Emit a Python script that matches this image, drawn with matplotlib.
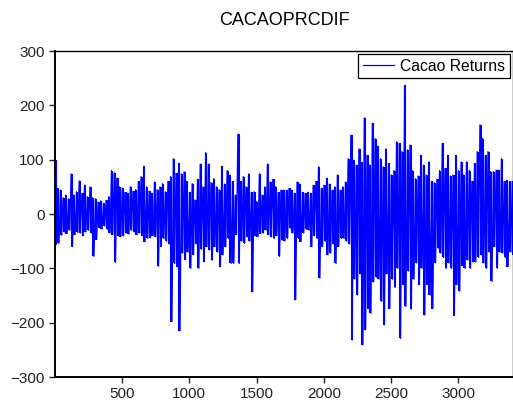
import matplotlib
matplotlib.use("Agg")
import matplotlib.pyplot as plt
import numpy as np

plt.rcParams['font.family'] = ['Liberation Sans', 'DejaVu Sans']

upper = [99, 47, 44, 30, 35, 28, 74, 35, 41, 61, 38, 53, 32, 50, 30, 28, 22, 24, 20, 25,
         32, 80, 76, 66, 50, 48, 40, 38, 50, 42, 45, 60, 69, 88, 50, 42, 38, 59, 45, 50,
         56, 41, 60, 69, 102, 75, 93, 74, 78, 60, 40, 56, 26, 64, 92, 50, 113, 92, 58, 65,
         50, 45, 88, 55, 80, 71, 60, 35, 147, 60, 69, 50, 74, 40, 41, 23, 74, 35, 50, 92,
         59, 64, 50, 40, 44, 44, 44, 47, 44, 38, 59, 55, 40, 38, 40, 38, 53, 60, 87, 47,
         53, 66, 55, 44, 50, 72, 44, 50, 59, 102, 145, 99, 90, 120, 95, 177, 108, 90, 167, 139,
         125, 102, 87, 120, 93, 72, 80, 133, 130, 115, 237, 118, 127, 80, 65, 70, 108, 90, 72, 96,
         60, 58, 64, 80, 130, 84, 108, 70, 72, 108, 80, 96, 72, 96, 80, 60, 93, 115, 164, 139,
         108, 115, 78, 78, 81, 81, 102, 60, 62, 60, 60]
lower = [-56, -54, -39, -33, -36, -30, -60, -38, -34, -35, -40, -33, -30, -35, -78, -47, -25, -28, -22, -28,
         -35, -38, -89, -40, -42, -40, -35, -37, -30, -33, -38, -35, -40, -51, -45, -44, -40, -42, -96, -60,
         -45, -50, -55, -198, -91, -97, -215, -72, -84, -70, -100, -75, -55, -100, -65, -88, -60, -66, -85, -60,
         -70, -97, -75, -60, -45, -91, -91, -38, -91, -50, -54, -42, -50, -143, -40, -42, -36, -35, -30, -38,
         -42, -45, -40, -78, -48, -50, -45, -26, -35, -158, -45, -51, -35, -28, -30, -60, -40, -45, -118, -60,
         -50, -75, -72, -55, -91, -60, -45, -45, -50, -55, -232, -120, -149, -110, -241, -213, -174, -183, -125, -116,
         -120, -161, -204, -110, -174, -120, -135, -100, -229, -130, -170, -105, -175, -120, -90, -130, -100, -186, -130, -149,
         -174, -90, -63, -72, -80, -100, -90, -100, -187, -130, -142, -95, -100, -85, -100, -88, -88, -80, -75, -90,
         -100, -70, -124, -60, -100, -70, -72, -80, -97, -70, -75]

step = 20
obs = []
vals = []
for i in range(len(upper)):
    obs += [step * i + 1, step * i + 11]
    vals += [upper[i], lower[i]]
centres = [step * i + 6 for i in range(len(upper))]

fig = plt.figure(figsize=(5.13, 4.05), dpi=100)
ax = fig.add_axes([0.1072, 0.0691, 0.8928, 0.8049])

# each 20-observation block spans its range, the line joins the extremes
ax.vlines(centres, lower, upper, color='#0000ff', lw=1.5)
ax.plot(obs, vals, color='#0000ff', lw=0.9, label='Cacao Returns')

ax.set_xlim(1, 3407)
ax.set_ylim(-300, 300)
ax.set_xticks([500, 1000, 1500, 2000, 2500, 3000])
ax.set_yticks([-300, -200, -100, 0, 100, 200, 300])
ax.tick_params(direction='out', length=4.3, width=1, labelsize=11, colors='#222222', pad=3)
ax.tick_params(top=False, right=False)
for s in ['left', 'bottom']:
    ax.spines[s].set_linewidth(1.4)
for s in ['top', 'right']:
    ax.spines[s].set_linewidth(1.0)

ax.set_title('CACAOPRCDIF', fontsize=13, pad=19)

leg = ax.legend(loc='upper right', bbox_to_anchor=(0.9934, 0.9908), borderaxespad=0,
                fancybox=False, edgecolor='black', framealpha=1, fontsize=11.3,
                handlelength=2.0, borderpad=0.3, handletextpad=0.4)
leg.get_frame().set_linewidth(0.9)

plt.savefig('out.png', dpi=100)
